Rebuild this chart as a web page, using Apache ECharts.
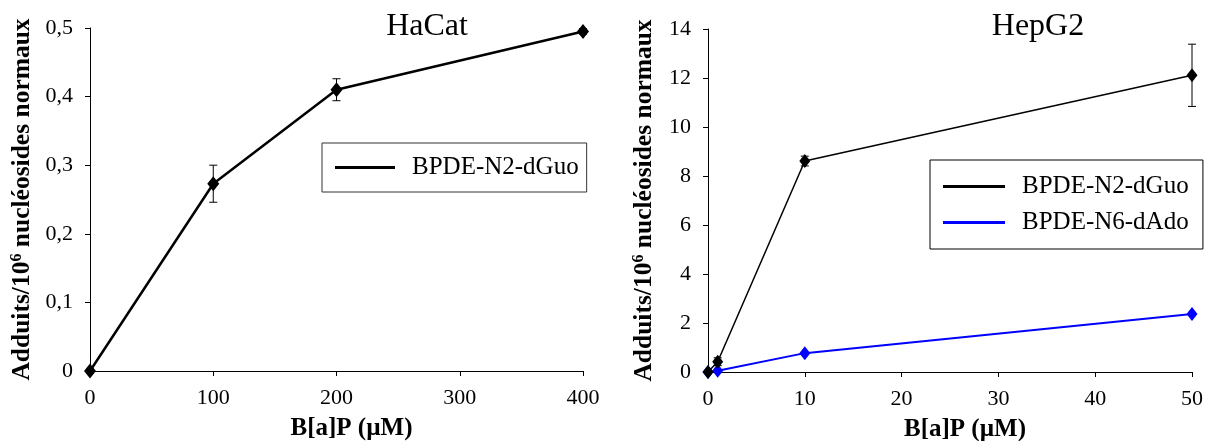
<!DOCTYPE html>
<html>
<head>
<meta charset="utf-8">
<script src="https://cdn.jsdelivr.net/npm/echarts@6/dist/echarts.min.js"></script>
<style>
html,body{margin:0;padding:0;background:#fff;}
#c{width:1207px;height:441px;}
</style>
</head>
<body>
<div id="c"></div>
<script>
// ---- Data ----
const hacatX = [0, 100, 200, 400];
const hacatN2dGuo = [0, 0.273, 0.41, 0.495];
const hacatN2dGuoErr = [0, 0.027, 0.016, 0.004];

const hepg2X = [0, 1, 10, 50];
const hepg2N2dGuo = [0, 0.42, 8.61, 12.11];
const hepg2N2dGuoErr = [0, 0.16, 0.2, 1.27];
const hepg2N6dAdo = [0, 0.05, 0.77, 2.37];

const titles = ['HaCat', 'HepG2'];
const seriesNames = ['BPDE-N2-dGuo', 'BPDE-N6-dAdo'];
const xAxisName = 'B[a]P (µM)';
const yAxisName = 'Adduits/10{sup|6} nucléosides normaux';

const FONT = '"Liberation Serif", "Times New Roman", serif';

function pairs(xs, ys){ return xs.map((x,i)=>[x, ys[i]]); }
function errData(xs, ys, es){ return xs.map((x,i)=>[x, ys[i]-es[i], ys[i]+es[i]]); }

function errorRender(params, api){
  const x = api.value(0);
  const lo = api.coord([x, api.value(1)]);
  const hi = api.coord([x, api.value(2)]);
  const w = 4;
  const st = {stroke:'#000', lineWidth:1};
  return {type:'group', children:[
    {type:'line', shape:{x1:lo[0], y1:lo[1], x2:hi[0], y2:hi[1]}, style:st},
    {type:'line', shape:{x1:lo[0]-w, y1:lo[1], x2:lo[0]+w, y2:lo[1]}, style:st},
    {type:'line', shape:{x1:hi[0]-w, y1:hi[1], x2:hi[0]+w, y2:hi[1]}, style:st}
  ]};
}

const axisLine = {lineStyle:{color:'#000', width:1}};
const axisTick = {show:true, inside:false, length:5, lineStyle:{color:'#000', width:1}};
const tickLabel = {color:'#000', fontFamily:FONT, fontSize:22};
const yNameStyle = {
  color:'#000', fontFamily:FONT, fontSize:25.5, fontWeight:'bold',
  rich:{sup:{fontFamily:FONT, fontSize:16, fontWeight:'bold', color:'#000', verticalAlign:'top'}}
};
const xNameStyle = {color:'#000', fontFamily:FONT, fontSize:25, fontWeight:'bold', padding:[0,0,0,30]};

function xAx(gi, max, interval){
  return {type:'value', gridIndex:gi, min:0, max:max, interval:interval,
    name:xAxisName, nameLocation:'middle', nameGap:45, nameTextStyle:xNameStyle,
    axisLine:axisLine, axisTick:axisTick, splitLine:{show:false},
    axisLabel:Object.assign({margin:16}, tickLabel)};
}
function yAx(gi, max, interval, fmt, gap){
  return {type:'value', gridIndex:gi, min:0, max:max, interval:interval,
    name:yAxisName, nameLocation:'middle', nameGap:gap, nameRotate:90, nameTextStyle:yNameStyle,
    axisLine:Object.assign({show:true}, axisLine), axisTick:axisTick, splitLine:{show:false},
    axisLabel:Object.assign({margin:17, formatter:fmt}, tickLabel)};
}

const chart = echarts.init(document.getElementById('c'));
chart.setOption({
  animation:false,
  backgroundColor:'#fff',
  title:[
    {text:titles[0], left:422, textAlign:'center', top:6, textStyle:{fontFamily:FONT, fontSize:32, fontWeight:'normal', color:'#000'}},
    {text:titles[1], left:1033, textAlign:'center', top:6, textStyle:{fontFamily:FONT, fontSize:32, fontWeight:'normal', color:'#000'}}
  ],
  grid:[
    {left:90, right:624, top:28, bottom:70, containLabel:false, outerBoundsMode:'none'},
    {left:708, right:15, top:29, bottom:69, containLabel:false, outerBoundsMode:'none'}
  ],
  xAxis:[xAx(0, 400, 100), xAx(1, 50, 10)],
  yAxis:[
    yAx(0, 0.5, 0.1, v => String(Math.round(v*10)/10).replace('.', ','), 55),
    yAx(1, 14, 2, v => String(v), 51)
  ],
  legend:[
    {data:[seriesNames[0]], left:322, top:143, orient:'vertical', icon:'rect', itemWidth:60, itemHeight:3,
     borderColor:'#333', borderWidth:1, padding:[12,8,12,13],
     textStyle:{fontFamily:FONT, fontSize:25, color:'#000', padding:[0,0,0,12]},
     selectedMode:false},
    {data:[seriesNames[0]+' ', seriesNames[1]], left:930, top:160, orient:'vertical', icon:'rect', itemWidth:62, itemHeight:3, itemGap:11,
     borderColor:'#000', borderWidth:1, padding:[14,8,14,13],
     textStyle:{fontFamily:FONT, fontSize:25, color:'#000', padding:[0,0,0,12]},
     selectedMode:false}
  ],
  series:[
    {type:'custom', xAxisIndex:0, yAxisIndex:0, renderItem:errorRender, data:errData(hacatX, hacatN2dGuo, hacatN2dGuoErr), clip:false, z:3},
    {name:seriesNames[0], type:'line', xAxisIndex:0, yAxisIndex:0, data:pairs(hacatX, hacatN2dGuo),
     symbol:'diamond', symbolSize:[12,15], clip:false,
     lineStyle:{color:'#000', width:2.5}, itemStyle:{color:'#000'}, z:4},
    {name:seriesNames[1], type:'line', xAxisIndex:1, yAxisIndex:1, data:pairs(hepg2X, hepg2N6dAdo),
     symbol:'diamond', symbolSize:[11,14], clip:false,
     lineStyle:{color:'#0000ff', width:2}, itemStyle:{color:'#0000ff'}, z:3},
    {type:'custom', xAxisIndex:1, yAxisIndex:1, renderItem:errorRender, data:errData(hepg2X, hepg2N2dGuo, hepg2N2dGuoErr), clip:false, z:4},
    {name:seriesNames[0]+' ', type:'line', xAxisIndex:1, yAxisIndex:1, data:pairs(hepg2X, hepg2N2dGuo),
     symbol:'diamond', symbolSize:[11,14], clip:false,
     lineStyle:{color:'#000', width:1.5}, itemStyle:{color:'#000'}, z:5}
  ]
});
</script>
</body>
</html>
